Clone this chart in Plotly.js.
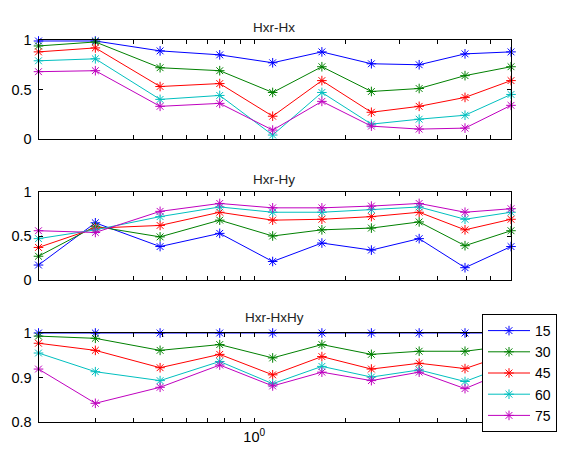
<!DOCTYPE html>
<html>
<head>
<meta charset="utf-8">
<script src="https://cdn.plot.ly/plotly-3.0.1.min.js"></script>
<style>html,body{margin:0;padding:0;background:#fff;}#chart{width:563px;height:468px;}</style>
</head>
<body>
<div id="chart"></div>
<script>
// x positions (log axis)
const xVals = [0.195, 0.3, 0.49, 0.77, 1.15, 1.67, 2.43, 3.49, 4.94, 7.0];
const seriesNames = ['15', '30', '45', '60', '75'];
const seriesColors = ['#0000FF', '#008000', '#FF0000', '#00BFBF', '#BF00BF'];

// Subplot 1: Hxr-Hx
const hx15 = [0.99, 0.99, 0.89, 0.85, 0.77, 0.88, 0.76, 0.75, 0.86, 0.88];
const hx30 = [0.94, 0.98, 0.72, 0.69, 0.47, 0.73, 0.48, 0.51, 0.64, 0.73];
const hx45 = [0.88, 0.92, 0.53, 0.56, 0.23, 0.59, 0.27, 0.33, 0.42, 0.59];
const hx60 = [0.79, 0.81, 0.40, 0.44, 0.04, 0.47, 0.15, 0.20, 0.24, 0.45];
const hx75 = [0.68, 0.69, 0.33, 0.36, 0.09, 0.38, 0.13, 0.10, 0.11, 0.34];

// Subplot 2: Hxr-Hy
const hy15 = [0.17, 0.65, 0.38, 0.53, 0.21, 0.42, 0.34, 0.47, 0.14, 0.38];
const hy30 = [0.27, 0.61, 0.49, 0.68, 0.50, 0.57, 0.59, 0.66, 0.39, 0.56];
const hy45 = [0.37, 0.59, 0.62, 0.77, 0.68, 0.69, 0.72, 0.77, 0.57, 0.69];
const hy60 = [0.47, 0.57, 0.72, 0.83, 0.77, 0.77, 0.80, 0.83, 0.69, 0.77];
const hy75 = [0.56, 0.54, 0.78, 0.87, 0.82, 0.82, 0.84, 0.87, 0.77, 0.81];

// Subplot 3: Hxr-HxHy
const hxy15 = [1.0, 1.0, 1.0, 1.0, 1.0, 1.0, 1.0, 1.0, 1.0, 1.0];
const hxy30 = [0.993, 0.988, 0.961, 0.974, 0.944, 0.974, 0.952, 0.959, 0.959, 0.972];
const hxy45 = [0.977, 0.961, 0.922, 0.952, 0.906, 0.947, 0.919, 0.932, 0.920, 0.955];
const hxy60 = [0.955, 0.913, 0.893, 0.936, 0.886, 0.925, 0.901, 0.917, 0.891, 0.930];
const hxy75 = [0.919, 0.842, 0.878, 0.928, 0.881, 0.912, 0.893, 0.912, 0.875, 0.918];

const titles = ['Hxr-Hx', 'Hxr-Hy', 'Hxr-HxHy'];
const xTickVals = [0.3, 0.4, 0.5, 0.6, 0.7, 0.8, 0.9, 1, 2, 3, 4, 5, 6];
const xTickText = ['', '', '', '', '', '', '', '10<sup>0</sup>', '', '', '', '', ''];

const panels = [
  [hx15, hx30, hx45, hx60, hx75],
  [hy15, hy30, hy45, hy60, hy75],
  [hxy15, hxy30, hxy45, hxy60, hxy75]
];

const traces = [];
panels.forEach((panel, p) => {
  panel.forEach((vals, s) => {
    traces.push({
      type: 'scatter', mode: 'lines+markers',
      x: xVals, y: vals,
      name: seriesNames[s],
      legendgroup: seriesNames[s],
      showlegend: p === 0,
      xaxis: p === 0 ? 'x' : 'x' + (p + 1),
      yaxis: p === 0 ? 'y' : 'y' + (p + 1),
      cliponaxis: false,
      line: {color: seriesColors[s], width: 1},
      marker: {symbol: 'asterisk-open', size: 8, color: seriesColors[s], line: {color: seriesColors[s], width: 1}}
    });
  });
});

const W = 563, H = 468;
const xDom = [38.5 / W, 511 / W];
const yDoms = [[1 - 139 / H, 1 - 40 / H], [1 - 280 / H, 1 - 192 / H], [1 - 422 / H, 1 - 333 / H]];
const tickFont = {family: 'Liberation Sans, Arial, sans-serif', size: 14.5, color: '#000'};

function xAxis(p) {
  return {
    domain: xDom, anchor: p === 0 ? 'y' : 'y' + (p + 1),
    type: 'log', range: [Math.log10(0.195), Math.log10(7.0)],
    tickmode: 'array', tickvals: xTickVals,
    ticktext: p === 2 ? xTickText : xTickVals.map(() => ''),
    ticks: 'inside', ticklen: 4, tickcolor: '#000', tickwidth: 1,
    showline: true, linecolor: '#000', linewidth: 1, mirror: 'ticks',
    showgrid: false, zeroline: false, tickfont: tickFont, ticklabelstandoff: 2
  };
}
function yAxis(p, range, vals, text) {
  return {
    domain: yDoms[p], anchor: p === 0 ? 'x' : 'x' + (p + 1),
    range: range, tickmode: 'array', tickvals: vals, ticktext: text,
    ticks: 'inside', ticklen: 4, tickcolor: '#000', tickwidth: 1,
    showline: true, linecolor: '#000', linewidth: 1, mirror: 'ticks',
    showgrid: false, zeroline: false, tickfont: tickFont, ticklabelstandoff: 3
  };
}

const titleY = [27, 179, 317];
const annotations = titles.map((t, i) => ({
  text: t, xref: 'paper', yref: 'paper', x: 274 / W, y: 1 - titleY[i] / H,
  xanchor: 'center', yanchor: 'middle', showarrow: false,
  font: {family: 'Liberation Sans, Arial, sans-serif', size: 13.5, color: '#222', weight: 'normal'}
}));

const layout = {
  width: W, height: H,
  margin: {l: 0, r: 0, t: 0, b: 0},
  paper_bgcolor: '#fff', plot_bgcolor: '#fff',
  showlegend: true,
  legend: {
    x: 482 / W, y: 1 - 314 / H, xanchor: 'left', yanchor: 'top',
    bgcolor: '#fff', bordercolor: '#000', borderwidth: 1,
    font: {family: 'Liberation Sans, Arial, sans-serif', size: 14, color: '#000'},
    itemwidth: 42, tracegroupgap: 0
  },
  xaxis: xAxis(0), xaxis2: xAxis(1), xaxis3: xAxis(2),
  yaxis: yAxis(0, [0, 1], [0, 0.5, 1], ['0', '0.5', '1']),
  yaxis2: yAxis(1, [0, 1], [0, 0.5, 1], ['0', '0.5', '1']),
  yaxis3: yAxis(2, [0.8, 1], [0.8, 0.9, 1], ['0.8', '0.9', '1']),
  annotations: annotations
};

Plotly.newPlot('chart', traces, layout, {displayModeBar: false, staticPlot: true});
</script>
</body>
</html>
